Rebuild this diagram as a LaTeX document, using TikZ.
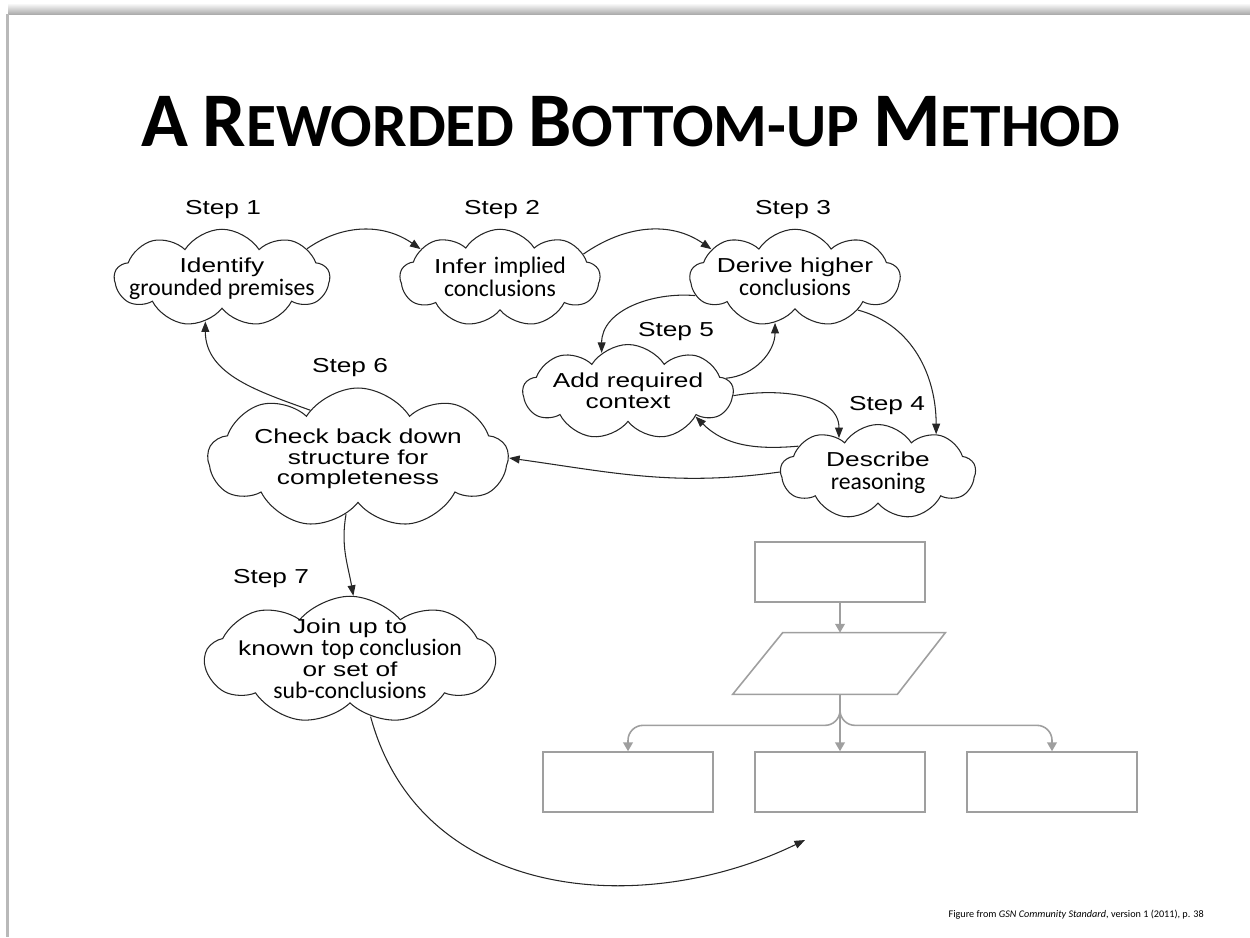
\documentclass[tikz,border=0pt]{standalone}
\usepackage{fontspec}
\setmainfont{Liberation Sans}
\newfontfamily\arialw[FakeStretch=1.3]{Liberation Sans}
\newfontfamily\carl{Carlito}
\usetikzlibrary{shapes.symbols,arrows.meta}
\newcommand\calib[1]{{\carl\fontsize{13.5pt}{11.5pt}\selectfont #1}}
\newcommand\cloudtext[1]{\smash{\makebox[0pt]{\raisebox{-4pt}{\begin{tabular}{@{}c@{}}#1\end{tabular}}}}}
\newcommand\bigc[1]{{\fontsize{44pt}{44pt}\selectfont #1}}
\begin{document}
\begin{tikzpicture}[x=0.02cm,y=-0.02cm,
  cloudbox/.style={cloud, draw=black!85, line width=0.6pt, cloud puffs=9, cloud puff arc=115,
    cloud ignores aspect, inner sep=0pt, font=\arialw\fontsize{11.5pt}{11.5pt}\selectfont},
  steplabel/.style={font=\arialw\fontsize{11.5pt}{11.5pt}\selectfont},
  conn/.style={draw=black!85, line width=0.6pt, -{Triangle[length=6pt,width=4.5pt]}},
  gbox/.style={draw=gray!75, line width=0.9pt, minimum width=3.4cm, minimum height=1.2cm, inner sep=0pt},
  garrow/.style={draw=gray!75, line width=0.9pt, -{Triangle[length=5pt,width=5.5pt]}}
]
\useasboundingbox (0,0) rectangle (1250,937);
% slide border
\shade[top color=white, bottom color=gray!65] (8,3) rectangle (1250,14);
\fill[gray!55] (6,14) rectangle (9,937);
% title
\node[anchor=base, font=\carl\bfseries\fontsize{35pt}{35pt}\selectfont] (title) at (631,146)
  {\bigc{A} \bigc{R}EWORDED \bigc{B}OTTOM-UP \bigc{M}ETHOD};
% step labels
\node[steplabel] (s1) at (223,210) {Step 1};
\node[steplabel] (s2) at (502,210) {Step 2};
\node[steplabel] (s3) at (793,210) {Step 3};
\node[steplabel] (s5) at (676,332) {Step 5};
\node[steplabel] (s6) at (350,368) {Step 6};
\node[steplabel] (s4) at (887,406) {Step 4};
\node[steplabel] (s7) at (271,579) {Step 7};
% clouds
\node[cloudbox, minimum width=4.3cm, minimum height=1.95cm] (c1) at (222,278)
  {\cloudtext{Identify\\\calib{grounded premises}}};
\node[cloudbox, minimum width=4.0cm, minimum height=1.95cm] (c2) at (500,278)
  {\cloudtext{Infer \calib{implied}\\\calib{conclusions}}};
\node[cloudbox, minimum width=4.2cm, minimum height=1.95cm] (c3) at (795,278)
  {\cloudtext{Derive higher\\\calib{conclusions}}};
\node[cloudbox, minimum width=4.2cm, minimum height=1.9cm] (c5) at (628,392)
  {\cloudtext{Add required\\context}};
\node[cloudbox, minimum width=3.9cm, minimum height=1.9cm] (c4) at (878,472)
  {\cloudtext{Describe\\\calib{reasoning}}};
\node[cloudbox, minimum width=6.0cm, minimum height=2.8cm] (c6) at (358,458)
  {\cloudtext{\fontsize{11.5pt}{12.5pt}\selectfont Check back down\\structure for\\completeness}};
\node[cloudbox, cloud puff arc=100, minimum width=5.8cm, minimum height=2.55cm] (c7) at (350,660)
  {\cloudtext{\fontsize{11.5pt}{11pt}\selectfont Join up to\\known \calib{top conclusion}\\or set of\\\calib{sub-conclusions}}};
% connectors between clouds
\draw[conn] (c1.19) to[out=35,in=145] (c2.160);
\draw[conn] (c2.16) to[out=35,in=145] (c3.161);
\draw[conn] (c3.190) to[out=175,in=90] (c5.124);
\draw[conn] (c5.8) to[out=5,in=270] (c3.246);
\draw[conn] (c3.-27) to[out=-15,in=90] (c4.33);
\draw[conn] (c5.-2) to[out=10,in=90] (c4.139);
\draw[conn] (c4.162) to[out=185,in=-45] (c5.-20);
\draw[conn] (c4.180) to[out=188,in=-8] (c6.0);
\draw[conn] (c6.135) to[out=160,in=-90] (c1.249);
\draw[conn] (c6.258) to[out=-100,in=100] (c7.87);
\coordinate (target) at (805,840);
\draw[conn] (c7.290) .. controls (420,900) and (640,920) .. (target);
% flowchart
\node[gbox] (top) at (840,572) {};
\node[minimum width=4.24cm, minimum height=1.22cm, inner sep=0pt] (par) at (839,663.5) {};
\draw[draw=gray!75, line width=0.9pt] ([xshift=1cm]par.north west) -- (par.north east)
  -- ([xshift=-0.96cm]par.south east) -- (par.south west) -- cycle;
\node[gbox] (b1) at (628,782) {};
\node[gbox] (b2) at (840,782) {};
\node[gbox] (b3) at (1052,782) {};
\draw[garrow] (top.south) -- (top.south |- par.north);
\draw[garrow] (top.south |- par.south) -- (b2.north);
\draw[garrow, rounded corners=0.3cm] (top.south |- par.south) -- ++(0,31) -| (b1.north);
\draw[garrow, rounded corners=0.3cm] (top.south |- par.south) -- ++(0,31) -| (b3.north);
% footer
\node[anchor=base east, font=\carl\fontsize{5.8pt}{6pt}\selectfont] (foot) at (1210,917)
  {Figure from \textit{GSN Community Standard}, version 1 (2011), p. 38};
\end{tikzpicture}
\end{document}
